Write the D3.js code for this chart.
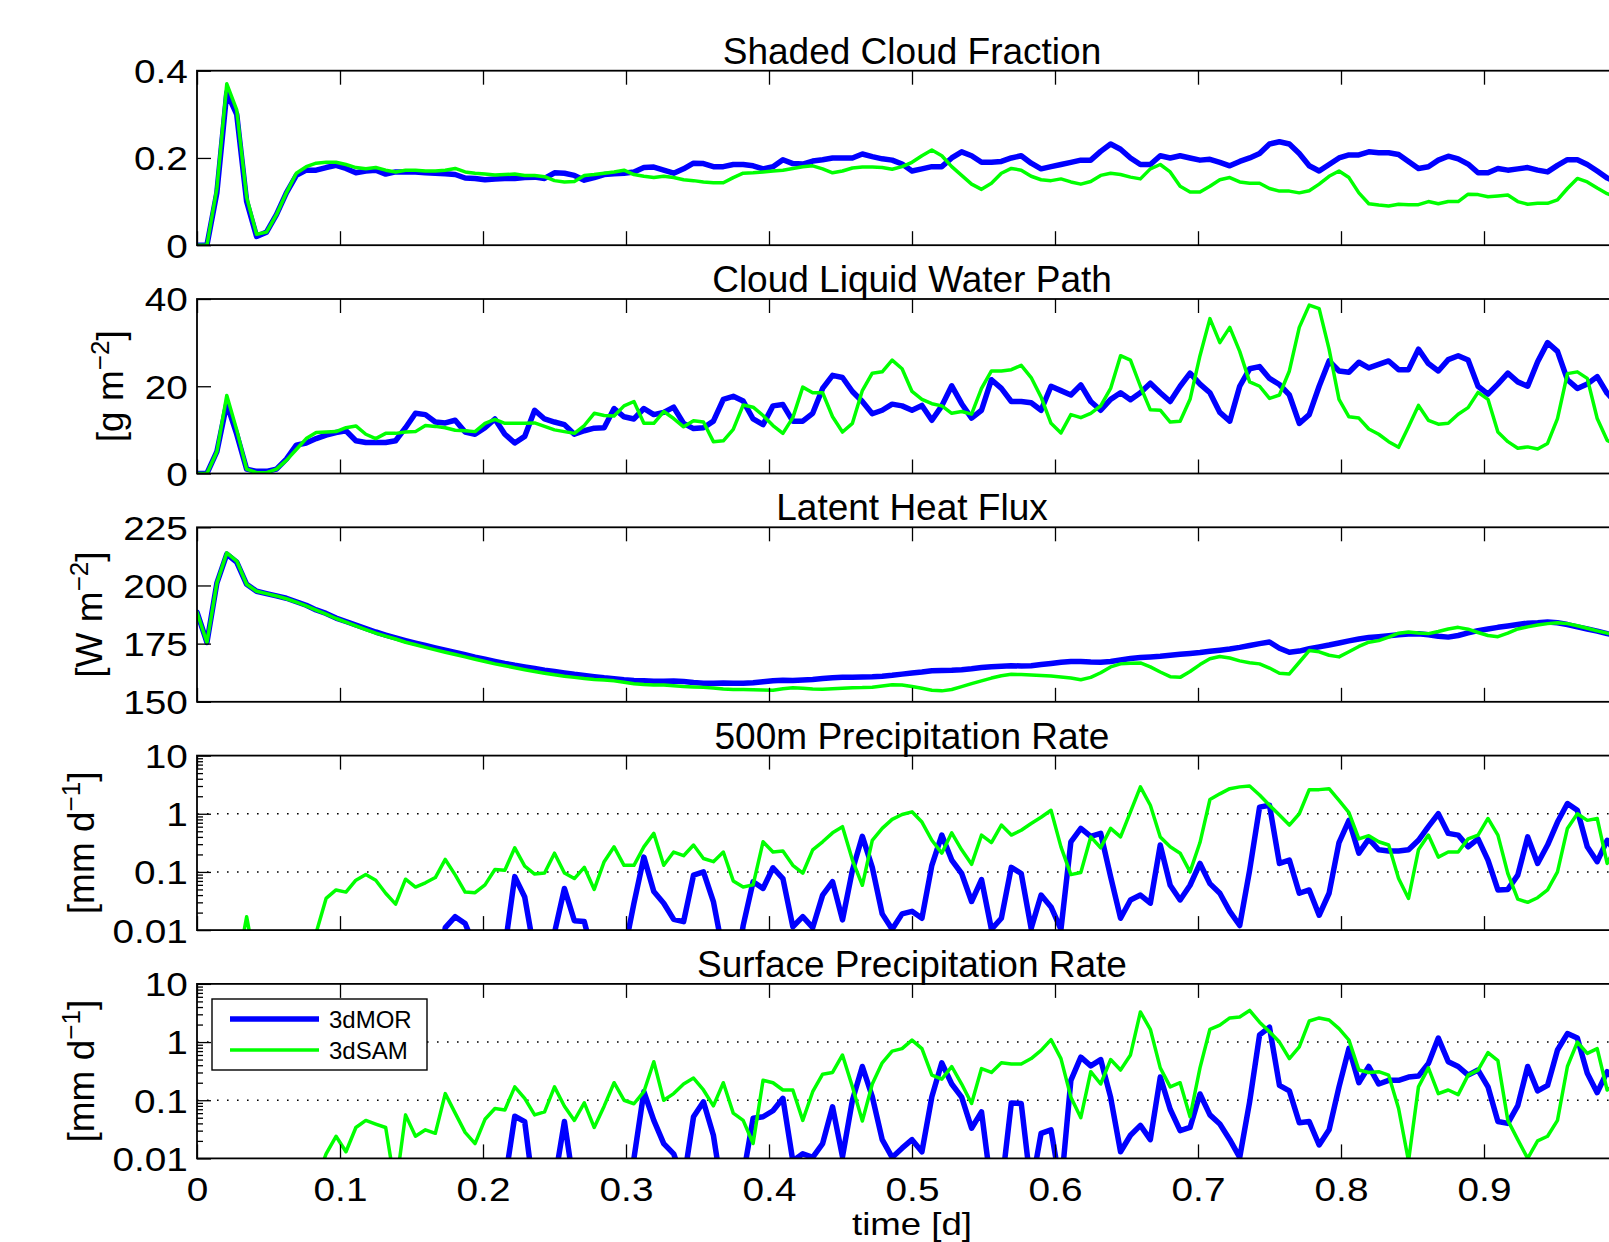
<!DOCTYPE html>
<html><head><meta charset="utf-8">
<script src="https://cdn.jsdelivr.net/npm/d3@7"></script>
<style>
html,body{margin:0;padding:0;overflow:hidden;background:#fff;}
svg{display:block;}
</style></head><body><svg id="c" width="1609" height="1242"></svg>
<script>
// ---------------- DATA (10-minute samples, t = i/144 d) ----------------
const samplesPerDay = 144;
const seriesNames = ["3dMOR", "3dSAM"];
const panelTitles = ["Shaded Cloud Fraction", "Cloud Liquid Water Path", "Latent Heat Flux", "500m Precipitation Rate", "Surface Precipitation Rate"];
const yLabelMain = [null, "[g m", "[W m", "[mm d", "[mm d"];
const yLabelSup = [null, "\u22122", "\u22122", "\u22121", "\u22121"];
const xLabel = "time [d]";
const timeTicks = [0, 0.1, 0.2, 0.3, 0.4, 0.5, 0.6, 0.7, 0.8, 0.9, 1];
const cfTicks = [0, 0.2, 0.4];
const lwpTicks = [0, 20, 40];
const lhfTicks = [150, 175, 200, 225];
const prTicks = [0.01, 0.1, 1, 10];
const prGrid = [0.1, 1];

const cfMOR = [
0, 0, 0.12, 0.35, 0.30, 0.10, 0.02, 0.03, 0.07, 0.12,
0.16, 0.172, 0.172, 0.178, 0.183, 0.176, 0.166, 0.17, 0.172, 0.163,
0.168, 0.168, 0.168, 0.166, 0.165, 0.164, 0.162, 0.154, 0.153, 0.15,
0.152, 0.153, 0.153, 0.155, 0.156, 0.153, 0.166, 0.165, 0.16, 0.149,
0.155, 0.162, 0.164, 0.165, 0.168, 0.178, 0.179, 0.172, 0.165, 0.175,
0.188, 0.187, 0.18, 0.18, 0.185, 0.185, 0.182, 0.175, 0.18, 0.196,
0.187, 0.186, 0.193, 0.196, 0.2, 0.2, 0.2, 0.209, 0.203, 0.198,
0.195, 0.186, 0.17, 0.175, 0.18, 0.18, 0.2, 0.214, 0.205, 0.19,
0.19, 0.192, 0.2, 0.205, 0.188, 0.175, 0.18, 0.185, 0.19, 0.195,
0.195, 0.215, 0.232, 0.22, 0.2, 0.185, 0.185, 0.205, 0.2, 0.205,
0.2, 0.195, 0.197, 0.19, 0.182, 0.192, 0.2, 0.21, 0.232, 0.237,
0.232, 0.21, 0.182, 0.17, 0.185, 0.2, 0.207, 0.207, 0.214, 0.212,
0.212, 0.208, 0.192, 0.176, 0.18, 0.195, 0.204, 0.198, 0.186, 0.166,
0.166, 0.176, 0.172, 0.175, 0.178, 0.172, 0.168, 0.183, 0.196, 0.196,
0.185, 0.17, 0.154, 0.145];
const cfSAM = [
0, 0, 0.13, 0.37, 0.31, 0.11, 0.025, 0.03, 0.07, 0.12,
0.165, 0.18, 0.188, 0.19, 0.19, 0.185, 0.178, 0.175, 0.178, 0.172,
0.168, 0.172, 0.172, 0.17, 0.17, 0.172, 0.176, 0.168, 0.165, 0.163,
0.161, 0.162, 0.163, 0.16, 0.16, 0.157, 0.148, 0.145, 0.146, 0.16,
0.162, 0.165, 0.168, 0.172, 0.162, 0.158, 0.155, 0.158, 0.155, 0.15,
0.148, 0.145, 0.143, 0.143, 0.155, 0.165, 0.166, 0.168, 0.17, 0.172,
0.176, 0.18, 0.182, 0.175, 0.166, 0.17, 0.177, 0.179, 0.179, 0.178,
0.174, 0.18, 0.19, 0.205, 0.218, 0.205, 0.18, 0.16, 0.14, 0.128,
0.142, 0.165, 0.176, 0.172, 0.158, 0.15, 0.148, 0.152, 0.145, 0.14,
0.146, 0.16, 0.165, 0.162, 0.156, 0.152, 0.175, 0.185, 0.168, 0.135,
0.122, 0.122, 0.135, 0.15, 0.155, 0.145, 0.142, 0.142, 0.13, 0.124,
0.124, 0.12, 0.125, 0.14, 0.158, 0.17, 0.155, 0.12, 0.095, 0.092,
0.09, 0.094, 0.093, 0.093, 0.1, 0.095, 0.1, 0.1, 0.117, 0.116,
0.111, 0.113, 0.115, 0.1, 0.094, 0.096, 0.096, 0.104, 0.13, 0.153,
0.145, 0.131, 0.118, 0.11];

const lwpMOR = [
0, 0, 5, 16, 9, 1, 0.5, 0.5, 1, 3.3,
6.5, 7, 8, 8.8, 9.4, 9.8, 7.5, 7.1, 7.1, 7.1,
7.5, 10.5, 13.8, 13.5, 11.8, 11.6, 12.2, 9.5, 9, 10.5,
12.5, 9, 7, 8.5, 14.5, 12.5, 11.8, 11.2, 9, 9.8,
10.4, 10.5, 14.9, 13, 12.5, 14.9, 13.5, 14, 15.2, 11.5,
10.3, 10.5, 12, 17, 17.7, 16.6, 12.5, 11.2, 15.5, 15.8,
12, 12, 13.8, 19.5, 22.5, 22, 18.8, 16.5, 13.7, 14.5,
15.9, 15.5, 14.5, 15.6, 12.2, 15.5, 20.1, 16, 12.7, 14.5,
21.5, 19.5, 16.5, 16.5, 16.2, 14.5, 20, 19, 18, 20.3,
16.5, 14.5, 17, 18.5, 16.9, 18.5, 20.7, 18.5, 16.5, 20,
23, 20.5, 18.5, 14, 12, 20, 24, 24.5, 21.8, 20.4,
18, 11.5, 13.5, 20, 25.8, 23.5, 23.2, 25.5, 24.2, 25,
25.8, 23.8, 23.8, 28.5, 25.2, 23.5, 26.1, 27, 26, 20,
18.2, 20.5, 23, 21, 20, 25.6, 30, 28, 21.5, 19.5,
20.5, 22.2, 18.4, 16];
const lwpSAM = [
0, 0, 5, 17.9, 10, 1, 0.2, 0.2, 1, 3,
5.5, 8, 9.4, 9.5, 9.6, 10.5, 10.9, 9, 8, 9.2,
9.2, 9.5, 9.6, 11, 10.8, 10.5, 9.9, 9.8, 9.6, 11.5,
12.4, 11.5, 11.5, 11.5, 11.6, 10.8, 10, 9.6, 9.2, 11,
13.8, 13.3, 13.2, 15.5, 16.5, 11.5, 11.5, 14.2, 12.6, 10.7,
12.1, 11.8, 7.3, 7.5, 10.1, 15.7, 15.2, 13.3, 11, 9.2,
12.8, 19.8, 18.5, 18.5, 13, 9.5, 11.5, 19, 23, 23.3,
26, 24, 18.8, 17, 16, 15.5, 13.8, 14.2, 13.6, 19.5,
23.5, 23.5, 23.8, 24.8, 22, 17.5, 11.5, 9.3, 13.5, 12.8,
13.8, 15.5, 19.5, 27, 26, 20, 14.6, 14.5, 11.8, 12,
17, 27, 35.5, 30, 33.5, 28, 21, 20, 17.2, 18,
23.5, 33.5, 38.6, 37.8, 28.5, 17, 13, 12.7, 10.2, 9,
7.3, 6, 10.7, 15.6, 12.2, 11.3, 11.5, 13.6, 15.1, 18.6,
17, 9.5, 7.3, 5.8, 6.1, 5.6, 6.9, 12.6, 22.9, 23.3,
21.8, 12.6, 7.6, 6.5];

const lhfMOR = [
188.5, 175.5, 201, 213.5, 210, 200.5, 197.5, 196.5, 195.5, 194.5,
193, 191.5, 189.5, 188, 186, 184.5, 183, 181.5, 180, 178.7,
177.5, 176.3, 175.2, 174.2, 173.2, 172.2, 171.2, 170.2, 169.2, 168.3,
167.4, 166.5, 165.7, 165, 164.3, 163.6, 163, 162.4, 161.8, 161.3,
160.8, 160.3, 159.9, 159.5, 159.2, 159, 158.8, 158.8, 158.9, 158.7,
158.3, 158, 158, 158.1, 158, 158, 158.2, 158.6, 159, 159.3,
159.2, 159.4, 159.6, 160, 160.3, 160.5, 160.6, 160.7, 160.8, 161,
161.4, 161.9, 162.4, 162.8, 163.3, 163.5, 163.6, 163.8, 164.2, 164.7,
165.1, 165.3, 165.5, 165.4, 165.5, 166, 166.5, 167, 167.3, 167.3,
167.1, 167, 167.3, 168, 168.6, 169, 169.3, 169.6, 170, 170.4,
170.8, 171.2, 171.7, 172.2, 172.7, 173.4, 174.2, 175, 175.7, 173,
171.3, 171.8, 172.8, 173.6, 174.4, 175.3, 176.2, 177, 177.6, 178,
178.4, 178.8, 179.1, 179.2, 178.8, 178.2, 177.8, 178.5, 179.6, 180.6,
181.3, 182, 182.6, 183.2, 183.8, 184, 184.3, 184, 183.2, 182.2,
181.3, 180.4, 179.3, 178.5];
const lhfSAM = [
188.5, 175.5, 201, 214, 210.5, 200.5, 197.5, 196.5, 195.5, 194.3,
192.8, 191.2, 189.4, 187.7, 185.8, 184.2, 182.6, 181, 179.5, 178.2,
177, 175.6, 174.5, 173.4, 172.3, 171.3, 170.3, 169.3, 168.3, 167.3,
166.3, 165.5, 164.6, 163.8, 163, 162.3, 161.6, 161, 160.5, 160,
159.6, 159.4, 159, 158.4, 157.8, 157.4, 157.2, 157.2, 156.9, 156.6,
156.4, 156.2, 155.9, 155.5, 155.3, 155.3, 155.2, 155.1, 155, 155.6,
156, 155.8, 155.5, 155.4, 155.6, 155.8, 156, 156.1, 156.3, 156.8,
157.3, 157.2, 156.6, 155.8, 155, 154.7, 155.3, 156.5, 157.8, 159,
160.2, 161.2, 161.8, 161.7, 161.5, 161.3, 161.1, 160.7, 160.2, 159.5,
160.5, 162.5, 165, 166.3, 166.6, 166.7, 165, 162.8, 160.8, 160.5,
163, 166, 168.5, 169.5, 168.8, 167.6, 166.8, 166.3, 164.5, 162.3,
162, 167, 172, 171.5, 170, 169.3, 171.5, 173.8, 175.6, 176.3,
177.8, 179.5, 180, 179.6, 179.3, 180.2, 181.3, 182, 181.2, 179.8,
178.5, 178, 179.5, 181.3, 182.2, 183, 183.6, 184, 183.6, 182.7,
181.6, 180.5, 179.5, 178.8];

const pr500MOR = [
0.001, 0.001, 0.001, 0.001, 0.001, 0.001, 0.001, 0.001, 0.001, 0.001,
0.001, 0.001, 0.001, 0.001, 0.001, 0.001, 0.001, 0.001, 0.001, 0.001,
0.001, 0.001, 0.001, 0.001, 0.001, 0.011, 0.017, 0.013, 0.005, 0.001,
0.001, 0.005, 0.083, 0.037, 0.004, 0.001, 0.009, 0.052, 0.0145, 0.014,
0.003, 0.001, 0.001, 0.004, 0.029, 0.18, 0.046, 0.029, 0.0153, 0.014,
0.088, 0.1, 0.031, 0.004, 0.001, 0.012, 0.068, 0.052, 0.118, 0.077,
0.0114, 0.017, 0.011, 0.04, 0.068, 0.015, 0.107, 0.41, 0.12, 0.019,
0.0103, 0.019, 0.021, 0.016, 0.13, 0.43, 0.16, 0.094, 0.031, 0.074,
0.0103, 0.016, 0.12, 0.094, 0.0107, 0.04, 0.025, 0.0103, 0.33, 0.56,
0.41, 0.46, 0.083, 0.016, 0.033, 0.04, 0.029, 0.29, 0.059, 0.033,
0.059, 0.14, 0.063, 0.043, 0.021, 0.012, 0.107, 1.3, 1.4, 0.14,
0.16, 0.043, 0.049, 0.018, 0.043, 0.32, 0.77, 0.21, 0.37, 0.24,
0.23, 0.23, 0.24, 0.35, 0.6, 1.0, 0.46, 0.43, 0.27, 0.37,
0.16, 0.049, 0.05, 0.088, 0.4, 0.14, 0.29, 0.72, 1.5, 1.15,
0.27, 0.15, 0.35, 0.2];
const pr500SAM = [
0.001, 0.001, 0.001, 0.001, 0.002, 0.017, 0.002, 0.001, 0.001, 0.001,
0.001, 0.001, 0.009, 0.035, 0.049, 0.045, 0.072, 0.09, 0.072, 0.043,
0.028, 0.075, 0.055, 0.065, 0.08, 0.164, 0.089, 0.045, 0.044, 0.06,
0.11, 0.107, 0.26, 0.126, 0.092, 0.096, 0.21, 0.096, 0.077, 0.12,
0.05, 0.15, 0.27, 0.13, 0.13, 0.27, 0.46, 0.13, 0.22, 0.19,
0.29, 0.17, 0.15, 0.22, 0.07, 0.055, 0.06, 0.33, 0.22, 0.23,
0.13, 0.095, 0.24, 0.33, 0.47, 0.6, 0.16, 0.059, 0.35, 0.56,
0.8, 0.97, 1.08, 0.72, 0.35, 0.21, 0.47, 0.24, 0.135, 0.43,
0.32, 0.64, 0.43, 0.52, 0.68, 0.87, 1.15, 0.27, 0.09, 0.098,
0.4, 0.26, 0.56, 0.4, 1.08, 2.9, 1.4, 0.4, 0.27, 0.21,
0.1, 0.32, 1.76, 2.2, 2.7, 2.9, 3.0, 2.1, 1.4, 0.95,
0.64, 1.0, 2.6, 2.6, 2.7, 1.7, 1.05, 0.37, 0.42, 0.33,
0.29, 0.077, 0.035, 0.24, 0.43, 0.18, 0.22, 0.22, 0.37, 0.43,
0.83, 0.43, 0.094, 0.034, 0.03, 0.036, 0.049, 0.1, 0.56, 1.0,
0.77, 0.83, 0.14, 0.3];

const prSfcMOR = [
0.001, 0.001, 0.001, 0.001, 0.001, 0.001, 0.001, 0.001, 0.001, 0.001,
0.001, 0.001, 0.001, 0.001, 0.001, 0.001, 0.001, 0.001, 0.001, 0.001,
0.001, 0.001, 0.001, 0.001, 0.001, 0.001, 0.001, 0.001, 0.001, 0.001,
0.001, 0.004, 0.053, 0.043, 0.002, 0.001, 0.004, 0.043, 0.003, 0.001,
0.001, 0.001, 0.001, 0.003, 0.01, 0.14, 0.045, 0.018, 0.012, 0.004,
0.052, 0.094, 0.025, 0.002, 0.001, 0.005, 0.049, 0.052, 0.066, 0.108,
0.009, 0.012, 0.0104, 0.018, 0.077, 0.0107, 0.1, 0.38, 0.115, 0.021,
0.0104, 0.015, 0.021, 0.013, 0.115, 0.44, 0.19, 0.113, 0.033, 0.063,
0.003, 0.003, 0.09, 0.088, 0.003, 0.027, 0.031, 0.003, 0.22, 0.55,
0.39, 0.5, 0.113, 0.013, 0.025, 0.037, 0.021, 0.25, 0.07, 0.03,
0.034, 0.128, 0.056, 0.039, 0.021, 0.0104, 0.094, 1.33, 1.8, 0.18,
0.145, 0.041, 0.043, 0.017, 0.031, 0.17, 0.78, 0.2, 0.38, 0.19,
0.22, 0.22, 0.25, 0.26, 0.43, 1.17, 0.46, 0.38, 0.27, 0.33,
0.17, 0.043, 0.04, 0.081, 0.38, 0.145, 0.18, 0.73, 1.4, 1.17,
0.29, 0.135, 0.31, 0.2];
const prSfcSAM = [
0.001, 0.001, 0.001, 0.001, 0.001, 0.001, 0.001, 0.001, 0.001, 0.001,
0.001, 0.001, 0.004, 0.012, 0.024, 0.013, 0.034, 0.045, 0.039, 0.034,
0.003, 0.056, 0.024, 0.031, 0.027, 0.13, 0.06, 0.028, 0.018, 0.047,
0.072, 0.068, 0.17, 0.108, 0.056, 0.063, 0.17, 0.079, 0.045, 0.09,
0.034, 0.079, 0.2, 0.1, 0.087, 0.14, 0.46, 0.1, 0.13, 0.19,
0.24, 0.15, 0.08, 0.2, 0.06, 0.045, 0.018, 0.22, 0.2, 0.15,
0.15, 0.045, 0.14, 0.28, 0.3, 0.6, 0.17, 0.044, 0.19, 0.44,
0.7, 0.77, 1.08, 0.77, 0.27, 0.23, 0.38, 0.19, 0.088, 0.35,
0.3, 0.44, 0.42, 0.42, 0.52, 0.72, 1.1, 0.52, 0.113, 0.05,
0.31, 0.19, 0.5, 0.33, 0.6, 3.3, 1.66, 0.36, 0.17, 0.2,
0.052, 0.36, 1.66, 1.96, 2.6, 2.7, 3.5, 2.2, 1.5, 1.0,
0.52, 0.83, 2.3, 2.6, 2.4, 1.7, 1.08, 0.33, 0.3, 0.31,
0.27, 0.072, 0.009, 0.17, 0.36, 0.13, 0.15, 0.125, 0.27, 0.33,
0.66, 0.48, 0.045, 0.021, 0.01, 0.02, 0.024, 0.045, 0.38, 1.0,
0.64, 0.77, 0.15, 0.2];

// ---------------- LAYOUT ----------------
const xL = 197, xR = 1627;
const panelTops = [70.7, 299, 527.3, 755.6, 983.9];
const panelH = 174.5;
const labelBaseX = [null, 123, 102, 94, 94];
const TICK = 14, MINOR = 6;
const TICKFONT = 34, TICKSTRETCH = 1.14;
const FONT = '"Liberation Sans", Arial, Helvetica, sans-serif';
const BLUE = "#0000ff", GREEN = "#00ff00";

const panels = [
  {mor: cfMOR, sam: cfSAM, ticks: cfTicks, domain: [0, 0.4], log: false},
  {mor: lwpMOR, sam: lwpSAM, ticks: lwpTicks, domain: [0, 40], log: false},
  {mor: lhfMOR, sam: lhfSAM, ticks: lhfTicks, domain: [150, 225], log: false},
  {mor: pr500MOR, sam: pr500SAM, ticks: prTicks, domain: [0.01, 10], log: true},
  {mor: prSfcMOR, sam: prSfcSAM, ticks: prTicks, domain: [0.01, 10], log: true}
];

const svg = d3.select("#c");
const defs = svg.append("defs");
const x = d3.scaleLinear().domain([0, 1]).range([xL, xR]);
const fmt = d => String(+d.toFixed(3));
// the 1.0 label sits beyond the visible page edge, as in the original
const fmtTime = d => d >= 1 ? "" : fmt(d);

function styleAxis(g) {
  g.attr("font-family", FONT).attr("font-size", TICKFONT).attr("color", "#000");
  g.select(".domain").remove();
  g.selectAll(".tick line").attr("stroke-width", 1.3);
  g.selectAll(".tick text").attr("fill", "#000");
}

panels.forEach((p, k) => {
  const top = panelTops[k], bot = top + panelH;
  const y = p.log
    ? d3.scaleLog().domain(p.domain).range([bot, top])
    : d3.scaleLinear().domain(p.domain).range([bot, top]);
  const g = svg.append("g");

  defs.append("clipPath").attr("id", "clip" + k)
    .append("rect").attr("x", xL).attr("y", top).attr("width", xR - xL).attr("height", panelH);

  if (p.log) {
    g.selectAll("line.grid").data(prGrid).enter().append("line")
      .attr("x1", xL).attr("x2", xR)
      .attr("y1", d => y(d)).attr("y2", d => y(d))
      .attr("stroke", "#000").attr("stroke-width", 1.5)
      .attr("stroke-dasharray", "1.6,8.4");
  }

  const yv = d => p.log ? y(Math.max(d, 1e-5)) : y(d);
  const line = d3.line().x((d, i) => x(i / samplesPerDay)).y(yv);
  const lg = g.append("g").attr("clip-path", `url(#clip${k})`);
  lg.append("path").datum(p.mor).attr("d", line)
    .attr("fill", "none").attr("stroke", BLUE).attr("stroke-width", 5.5)
    .attr("stroke-linejoin", "round").attr("stroke-linecap", "round");
  lg.append("path").datum(p.sam).attr("d", line)
    .attr("fill", "none").attr("stroke", GREEN).attr("stroke-width", 3.5)
    .attr("stroke-linejoin", "round").attr("stroke-linecap", "round");

  // box
  g.append("rect").attr("x", xL).attr("y", top).attr("width", xR - xL).attr("height", panelH)
    .attr("fill", "none").attr("stroke", "#000").attr("stroke-width", 1.8);

  // x ticks bottom
  const gxb = g.append("g").attr("transform", `translate(0,${bot})`)
    .call(d3.axisBottom(x).tickValues(timeTicks).tickSize(-TICK).tickPadding(18)
      .tickFormat(k === panels.length - 1 ? fmtTime : ""));
  styleAxis(gxb);
  gxb.selectAll(".tick text").attr("dy", "0.71em")
    .attr("transform", `scale(${TICKSTRETCH},1)`);
  // x ticks top
  const gxt = g.append("g").attr("transform", `translate(0,${top})`)
    .call(d3.axisTop(x).tickValues(timeTicks).tickSize(-TICK).tickFormat(""));
  styleAxis(gxt);
  // y ticks left
  const gyl = g.append("g").attr("transform", `translate(${xL},0)`)
    .call(d3.axisLeft(y).tickValues(p.ticks).tickSize(-TICK).tickPadding(8).tickFormat(fmt));
  styleAxis(gyl);
  gyl.selectAll(".tick text").attr("dy", "0.35em")
    .attr("transform", `scale(${TICKSTRETCH},1)`);
  // y ticks right
  const gyr = g.append("g").attr("transform", `translate(${xR},0)`)
    .call(d3.axisRight(y).tickValues(p.ticks).tickSize(-TICK).tickFormat(""));
  styleAxis(gyr);
  if (p.log) {
    const minor = [];
    [0.01, 0.1, 1].forEach(dec => [2,3,4,5,6,7,8,9].forEach(m => minor.push(dec * m)));
    const gml = g.append("g").attr("transform", `translate(${xL},0)`)
      .call(d3.axisLeft(y).tickValues(minor).tickSize(-MINOR).tickFormat(""));
    styleAxis(gml);
    const gmr = g.append("g").attr("transform", `translate(${xR},0)`)
      .call(d3.axisRight(y).tickValues(minor).tickSize(-MINOR).tickFormat(""));
    styleAxis(gmr);
  }

  // title
  g.append("text").attr("x", (xL + xR) / 2).attr("y", top - 7)
    .attr("text-anchor", "middle").attr("font-family", FONT).attr("font-size", 37)
    .attr("fill", "#000").text(panelTitles[k]);

  // y label
  if (yLabelMain[k]) {
    const t = g.append("text")
      .attr("transform", `translate(${labelBaseX[k]},${(top + bot) / 2}) rotate(-90)`)
      .attr("text-anchor", "middle").attr("font-family", FONT).attr("font-size", 37).attr("fill", "#000");
    t.append("tspan").text(yLabelMain[k]);
    t.append("tspan").attr("font-size", 26).attr("dy", -14).text(yLabelSup[k]);
    t.append("tspan").attr("dy", 14).text("]");
  }
});

// x label (kept fully inside the page, clear of the tick labels)
svg.append("text")
  .attr("transform", `translate(${(xL + xR) / 2},1235.3) scale(1.2,1)`)
  .attr("text-anchor", "middle").attr("font-family", FONT).attr("font-size", 30.5)
  .attr("fill", "#000").text(xLabel);

// legend
const leg = svg.append("g");
leg.append("rect").attr("x", 212).attr("y", 999).attr("width", 215).attr("height", 71)
  .attr("fill", "#fff").attr("stroke", "#000").attr("stroke-width", 1.4);
const legColors = [BLUE, GREEN], legWidths = [5.5, 3.5], legY = [1019, 1050];
seriesNames.forEach((nm, i) => {
  leg.append("line").attr("x1", 230).attr("x2", 319).attr("y1", legY[i]).attr("y2", legY[i])
    .attr("stroke", legColors[i]).attr("stroke-width", legWidths[i]);
  leg.append("text").attr("x", 329).attr("y", legY[i] + 8.5)
    .attr("font-family", FONT).attr("font-size", 24).attr("fill", "#000").text(nm);
});
</script>
</body></html>
